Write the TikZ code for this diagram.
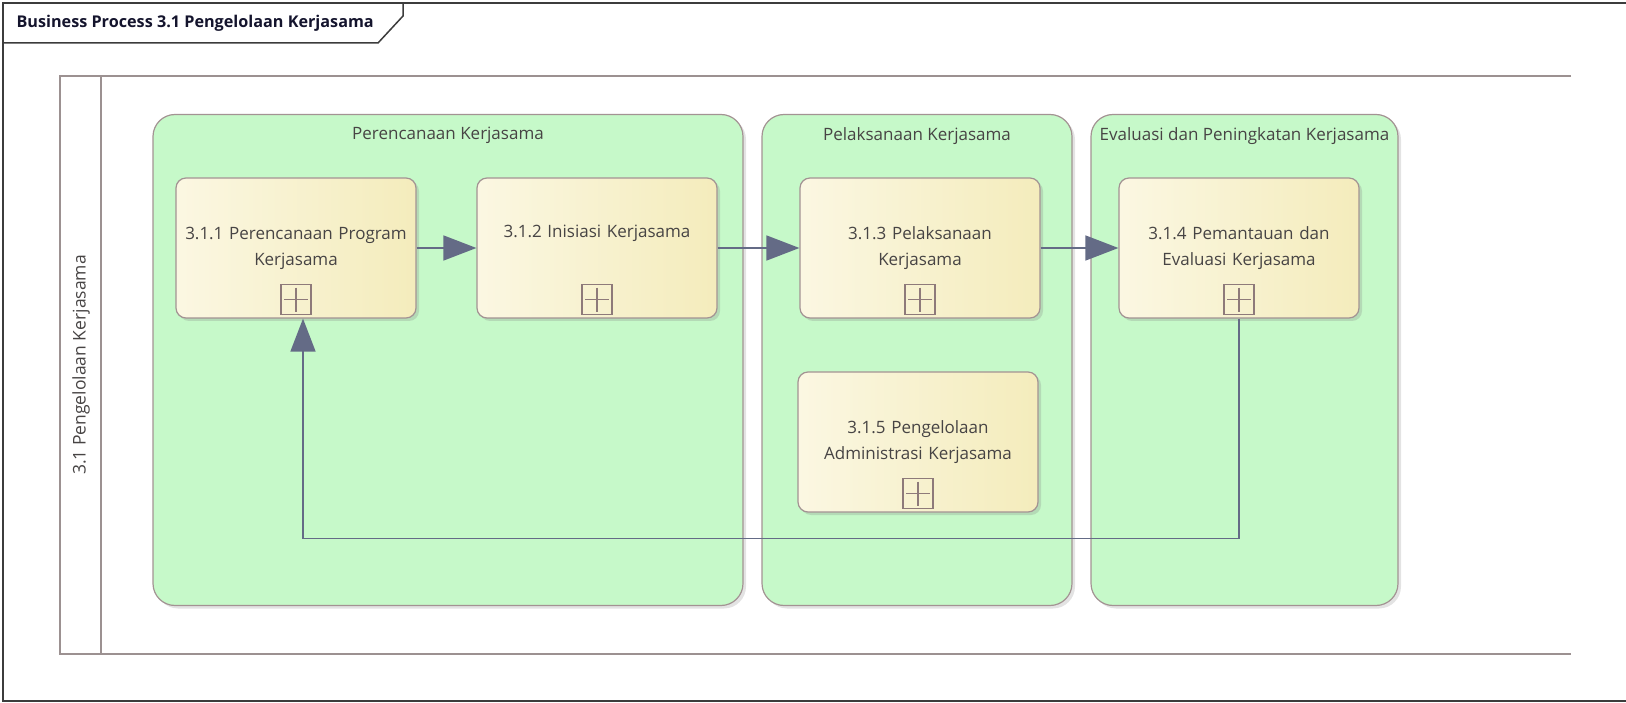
\documentclass[tikz,border=0pt]{standalone}
\usepackage{fontspec}
\setmainfont{Open Sans}
\usetikzlibrary{arrows.meta,positioning,calc,shadows}
\definecolor{frameline}{HTML}{3C3C3C}
\definecolor{poolline}{HTML}{9C9191}
\definecolor{grpfill}{HTML}{C6F9C9}
\definecolor{edge}{HTML}{A39393}
\definecolor{mk}{HTML}{8E7A7A}
\definecolor{taskl}{HTML}{FBF7E2}
\definecolor{taskr}{HTML}{F4ECBC}
\definecolor{flow}{HTML}{646B86}
\definecolor{ink}{HTML}{474444}

\begin{document}
\begin{tikzpicture}[x=1pt,y=-1pt,
  font=\fontsize{17}{26}\selectfont,
  frame/.style={draw=frameline, line width=1.5pt},
  pool/.style={draw=poolline, line width=2.2pt},
  grp/.style={draw=edge, line width=1.2pt, fill=grpfill, rounded corners=22pt,
    drop shadow={opacity=0.22, shadow xshift=3pt, shadow yshift=-3pt}},
  grptitle/.style={text=ink, inner sep=0pt},
  task/.style={draw=edge, line width=1.2pt, rounded corners=10pt, left color=taskl, right color=taskr,
    minimum width=240pt, minimum height=140pt, text width=230pt, align=center, text=ink,
    drop shadow={opacity=0.25, shadow xshift=3pt, shadow yshift=-3pt}},
  marker/.style={draw=mk, line width=1.3pt, minimum size=30pt, inner sep=0pt,
    path picture={\draw[mk, line width=1.2pt]
      ([xshift=3pt]path picture bounding box.west) -- ([xshift=-3pt]path picture bounding box.east)
      ([yshift=-3pt]path picture bounding box.north) -- ([yshift=3pt]path picture bounding box.south);}},
  arr/.style={flow, line width=1.5pt, -{Triangle[length=33pt,width=25pt]}}]
\useasboundingbox (0,0) rectangle (1626,703);
% ----- frame and title tab
\draw[frame] (1627,3) -- (3,3) -- (3,701) -- (1627,701);
\draw[frame] (3,43) -- (378,43) -- (403,16) -- (403,3);
\node[anchor=west, font=\fontsize{16.2}{18}\selectfont\bfseries, text={rgb,255:red,20;green,20;blue,45}] (ttl) at (13,23) {Business Process 3.1 Pengelolaan Kerjasama};
% ----- pool
\draw[pool] (1571,76) -- (60,76) -- (60,654) -- (1571,654);
\draw[pool] (101,76) -- (101,654);
\node[rotate=90, text=ink, font=\fontsize{17.5}{20}\selectfont] (lane) at (81,365) {3.1 Pengelolaan Kerjasama};
% ----- groups
\node[grp, minimum width=590pt, minimum height=491pt] (g1) at (448,360) {};
\node[grp, minimum width=310pt, minimum height=491pt] (g2) at (917,360) {};
\node[grp, minimum width=307pt, minimum height=491pt] (g3) at (1244.5,360) {};
\node[grptitle, below=13pt of g1.north] (g1t) {Perencanaan Kerjasama};
\node[grptitle, below=13pt of g2.north] (g2t) {Pelaksanaan Kerjasama};
\node[grptitle, below=13pt of g3.north] (g3t) {Evaluasi dan Peningkatan Kerjasama};
% ----- tasks
\node[task] (t1) at (296,248) {3.1.1 Perencanaan Program\\Kerjasama};
\node[task] (t2) at (597,248) {3.1.2 Inisiasi Kerjasama\\\strut};
\node[task] (t3) at (920,248) {3.1.3 Pelaksanaan\\Kerjasama};
\node[task] (t4) at (1239,248) {3.1.4 Pemantauan dan\\Evaluasi Kerjasama};
\node[task] (t5) at (918,442) {3.1.5 Pengelolaan\\Administrasi Kerjasama};
\foreach \t in {1,...,5} \node[marker] (m\t) at ([yshift=19pt]t\t.south) {};
% ----- flows
\draw[arr] (t1) -- (t2);
\draw[arr] (t2) -- (t3);
\draw[arr] (t3) -- (t4);
\draw[arr] (t4.south) -- ++(0,220) -| ([xshift=7pt]t1.south);
\end{tikzpicture}
\end{document}
